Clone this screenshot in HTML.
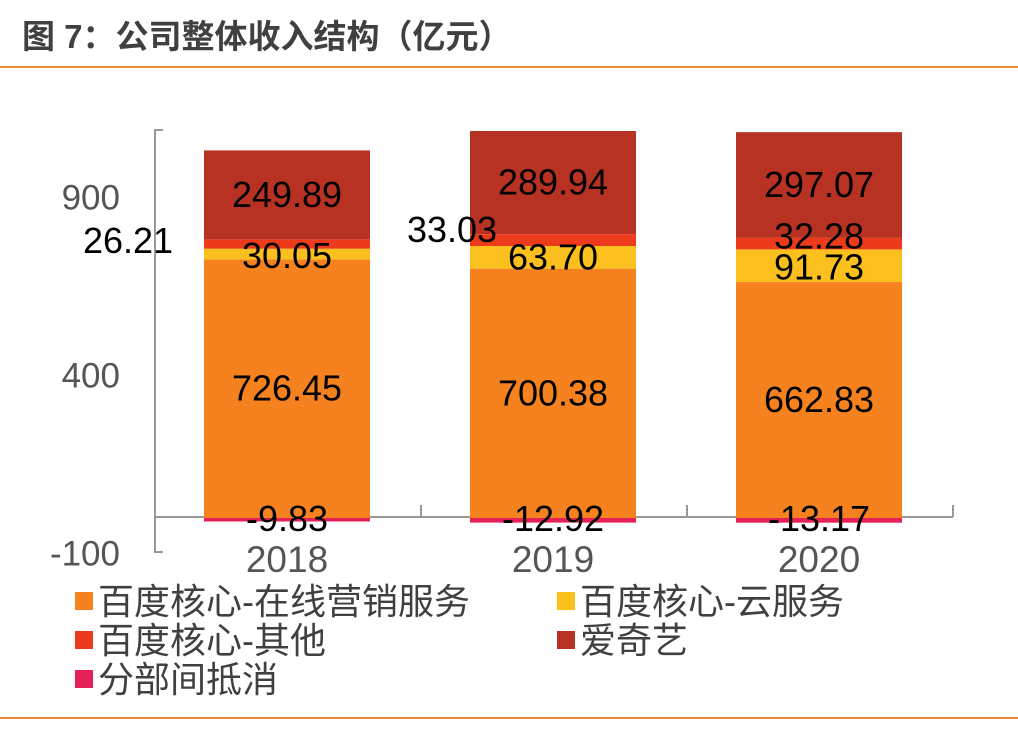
<!DOCTYPE html>
<html><head><meta charset="utf-8"><style>
body{margin:0;width:1018px;height:724px;background:#fff;overflow:hidden;font-family:"Liberation Sans","Noto Sans CJK SC",sans-serif;}
</style></head><body>
<svg width="1018" height="724" xmlns="http://www.w3.org/2000/svg">
<text x="22" y="48" font-size="33" font-weight="bold" fill="#404040" font-family="Liberation Sans, Noto Sans CJK SC, sans-serif">图 7：公司整体收入结构（亿元）</text>
<line x1="0" y1="67" x2="1018" y2="67" stroke="#e98a3a" stroke-width="2"/>
<line x1="0" y1="718" x2="1018" y2="718" stroke="#e98a3a" stroke-width="2"/>
<g id="plot"></g>
<g id="labels"></g>
<g id="legend"></g>
</svg>
<script>
const categories=["2018","2019","2020"];
const online=[726.45,700.38,662.83];
const cloud=[30.05,63.70,91.73];
const other=[26.21,33.03,32.28];
const iqiyi=[249.89,289.94,297.07];
const elim=[-9.83,-12.92,-13.17];
const yTicks=[900,400,-100];
const NS="http://www.w3.org/2000/svg";
const g=document.getElementById('plot');
const lbl=document.getElementById('labels');
const y=v=>518-v*0.356;
const xc=i=>287+i*266;
const bw=166;
function mk(t,a,p){const e=document.createElementNS(NS,t);for(const k in a)e.setAttribute(k,a[k]);(p||g).appendChild(e);return e;}
let ax=mk('path',{d:'M163 130 H155 V552 H163',stroke:'#999','stroke-width':2,fill:'none'});


yTicks.forEach(t=>{const e=mk('text',{x:120,y:y(t)+12,'font-size':35,fill:'#555','text-anchor':'end'});e.textContent=t;

});
let xa=mk('line',{x1:155,y1:517,x2:953,y2:517,stroke:'#999','stroke-width':2});


[0,1,2,3].forEach(i=>{const t=mk('line',{x1:155+i*266,y1:505,x2:155+i*266,y2:517,stroke:'#999','stroke-width':2});

});
const series=[{d:online,c:'#f5821f',n:'online-marketing'},{d:cloud,c:'#fcc01e',n:'cloud'},{d:other,c:'#ee3a1c',n:'core-other'},{d:iqiyi,c:'#b83224',n:'iqiyi'}];
function label(txt,x,yy){const e=mk('text',{x:x,y:yy+12,'font-size':36,fill:'#000','text-anchor':'middle'},lbl);e.textContent=txt;

}
categories.forEach((c,i)=>{
  let base=0;
  series.forEach((s,k)=>{
    const v=s.d[i];const r=mk('rect',{x:xc(i)-bw/2,y:y(base+v),width:bw,height:v*0.356,fill:s.c});
    
    
    let ly=y(base+v/2);let lx=xc(i);
    if(k===2&&i<2){lx=i===0?128:452;ly=i===0?241:230;}
    if(k===2&&i===2)ly-=7;
    if(k===1&&i===2)ly+=2;
    if(k===1&&i===0)ly+=2;
    label(v.toFixed(2),lx,ly);
    base+=v;
  });
  const n=mk('rect',{x:xc(i)-bw/2,y:y(0),width:bw,height:-elim[i]*0.356,fill:'#e6215a'});
  
  
  label(elim[i].toFixed(2),xc(i),y(0)+1);
  const t=mk('text',{x:xc(i),y:572,'font-size':37,fill:'#555','text-anchor':'middle'});t.textContent=c;
  
  
});
const lg=document.getElementById('legend');
const leg=[["百度核心-在线营销服务",'#f5821f',75,601],["百度核心-云服务",'#fcc01e',557,601],["百度核心-其他",'#ee3a1c',75,640],["爱奇艺",'#b83224',557,640],["分部间抵消",'#e6215a',75,679]];
leg.forEach(l=>{
  const s=mk('rect',{x:l[2],y:l[3]-9,width:18,height:18,fill:l[1]},lg);
  
  
  const t=mk('text',{x:l[2]+23,y:l[3]+13,'font-size':36,fill:'#404040'},lg);t.textContent=l[0];
  
  
});
</script>
</body></html>
